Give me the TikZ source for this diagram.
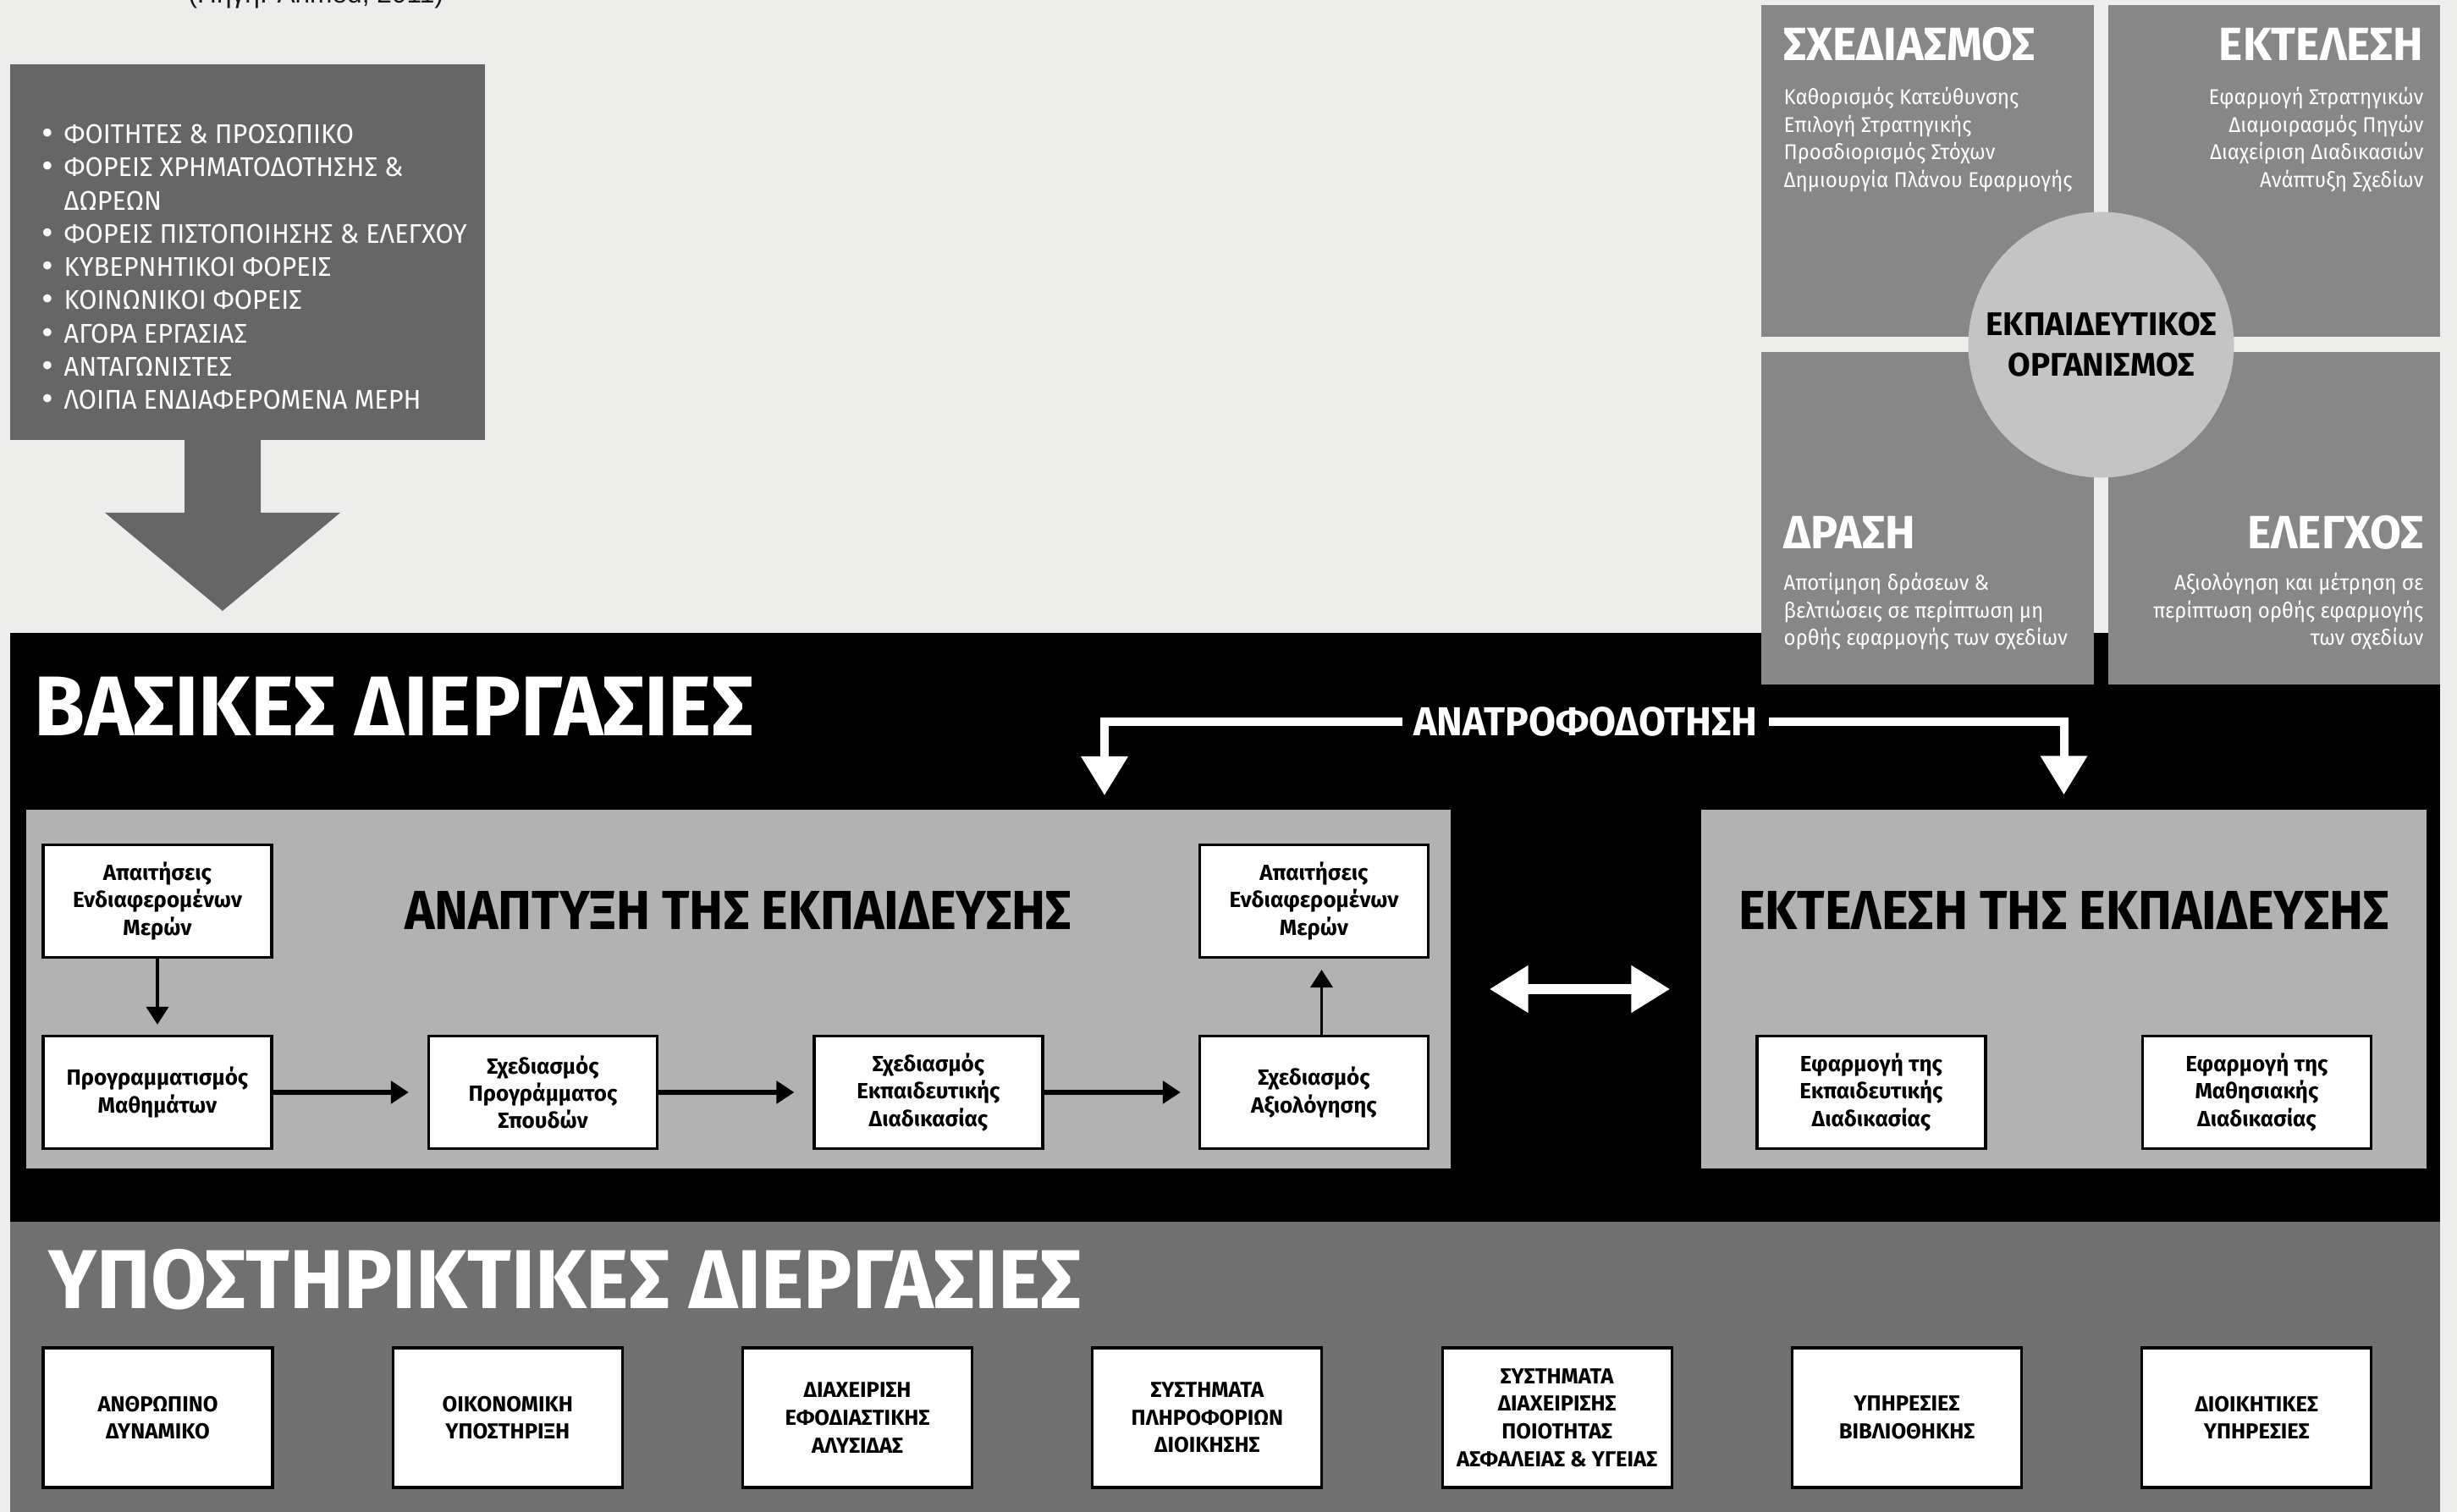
\documentclass[tikz,border=0pt]{standalone}
\usepackage{fontspec}
\setmainfont{Fira Sans}
\newfontfamily\headfont[FakeStretch=0.97]{Fira Sans}
\newfontfamily\titlefont[FakeStretch=0.925]{Fira Sans}
\newfontfamily\bodyfont[FakeStretch=0.95]{Fira Sans}
\newfontfamily\listfont[FakeStretch=0.96]{Fira Sans}
\newfontfamily\srcfont{Liberation Sans}
\usetikzlibrary{arrows.meta}

\definecolor{canvas}{RGB}{237,237,235}
\definecolor{listgray}{RGB}{102,102,102}
\definecolor{quadgray}{RGB}{135,135,135}
\definecolor{orggray}{RGB}{196,196,196}
\definecolor{panelgray}{RGB}{178,178,178}
\definecolor{suppgray}{RGB}{112,112,112}

\tikzset{
  procbox/.style={draw=black, line width=0.9pt, fill=white, minimum width=2.7cm, minimum height=1.33cm,
    align=center, inner sep=0pt, font=\bfseries\fontsize{7.4}{9.2}\selectfont},
  suppbox/.style={procbox, minimum width=2.71cm, minimum height=1.65cm, font=\bfseries\fontsize{7.3}{9.3}\selectfont},
  flowarrow/.style={line width=1.1pt, -{Triangle[length=0.21cm,width=0.26cm]}},
  fbarrow/.style={white, line width=0.1cm, -{Triangle[length=0.46cm,width=0.53cm]}},
  quadhead/.style={text=white, inner sep=0pt, font=\headfont\bfseries\fontsize{15.7}{18}\selectfont},
  quadtext/.style={text=white, inner sep=0pt, font=\bodyfont\fontsize{7.2}{9}\selectfont},
  listtext/.style={text=white, inner sep=0pt, anchor=base west, font=\listfont\fontsize{9.1}{11}\selectfont},
  bigtitle/.style={text=white, inner sep=0pt, anchor=base west, font=\headfont\bfseries\fontsize{28.5}{30}\selectfont},
  paneltitle/.style={inner sep=0pt, font=\titlefont\bfseries\fontsize{18.5}{20}\selectfont}
}

\begin{document}
\begin{tikzpicture}
    \useasboundingbox (0,0) rectangle (29.03,17.87);
    \fill[canvas] (0,0) rectangle (29.03,17.87);
    % source line, cut by the top edge
    \node[anchor=base west, inner sep=0pt, text=black!90, font=\srcfont\fontsize{9}{11}\selectfont] (source) at (2.22,17.83) {(Πηγή: Ahmed, 2011)};
    % stakeholders and block arrow
    \fill[listgray] (0.12,12.67) rectangle (5.73,17.11);
    \fill[listgray] (2.18,12.68) -- (2.18,11.81) -- (1.24,11.81) -- (2.63,10.65) -- (4.02,11.81) -- (3.08,11.81) -- (3.08,12.68) -- cycle;
    \foreach \b/\t [count=\i from 0] in {•/ΦΟΙΤΗΤΕΣ \& ΠΡΟΣΩΠΙΚΟ, •/ΦΟΡΕΙΣ ΧΡΗΜΑΤΟΔΟΤΗΣΗΣ \&, /ΔΩΡΕΩΝ,
        •/ΦΟΡΕΙΣ ΠΙΣΤΟΠΟΙΗΣΗΣ \& ΕΛΕΓΧΟΥ, •/ΚΥΒΕΡΝΗΤΙΚΟΙ ΦΟΡΕΙΣ, •/ΚΟΙΝΩΝΙΚΟΙ ΦΟΡΕΙΣ,
        •/ΑΓΟΡΑ ΕΡΓΑΣΙΑΣ, •/ΑΝΤΑΓΩΝΙΣΤΕΣ, •/ΛΟΙΠΑ ΕΝΔΙΑΦΕΡΟΜΕΝΑ ΜΕΡΗ}
    {
        \node[listtext, font=\fontsize{12}{12}\selectfont] (bul\i) at (0.49,16.155-0.393*\i) {\b};
        \node[listtext] (item\i) at (0.75,16.175-0.393*\i) {\t};
    }
    % core and support areas
    \fill[black] (0.12,3.43) rectangle (28.83,10.39);
    \fill[suppgray] (0.12,0) rectangle (28.83,3.43);
    % organisation quadrants
    \fill[quadgray] (20.81,13.89) rectangle (24.74,17.81);
    \fill[quadgray] (24.91,13.89) rectangle (28.83,17.81);
    \fill[quadgray] (20.81,9.78) rectangle (24.74,13.71);
    \fill[quadgray] (24.91,9.78) rectangle (28.83,13.71);
    \node[circle, fill=orggray, minimum size=3.14cm, inner sep=0pt, align=center,
        font=\bfseries\fontsize{11}{13.66}\selectfont] (org) at (24.825,13.795) {ΕΚΠΑΙΔΕΥΤΙΚΟΣ\\ΟΡΓΑΝΙΣΜΟΣ};
    \node[quadhead, anchor=base west] (plan) at (21.07,17.15) {ΣΧΕΔΙΑΣΜΟΣ};
    \node[quadhead, anchor=base east] (exec) at (28.64,17.15) {ΕΚΤΕΛΕΣΗ};
    \node[quadhead, anchor=base west] (act) at (21.07,11.38) {ΔΡΑΣΗ};
    \node[quadhead, anchor=base east] (check) at (28.64,11.38) {ΕΛΕΓΧΟΣ};
    \foreach \t [count=\i from 0] in {Καθορισμός Κατεύθυνσης, Επιλογή Στρατηγικής, Προσδιορισμός Στόχων, Δημιουργία Πλάνου Εφαρμογής}
        \node[quadtext, anchor=base west] (plan\i) at (21.07,16.63-0.325*\i) {\t};
    \foreach \t [count=\i from 0] in {Εφαρμογή Στρατηγικών, Διαμοιρασμός Πηγών, Διαχείριση Διαδικασιών, Ανάπτυξη Σχεδίων}
        \node[quadtext, anchor=base east] (exec\i) at (28.64,16.63-0.325*\i) {\t};
    \foreach \t [count=\i from 0] in {Αποτίμηση δράσεων \&, βελτιώσεις σε περίπτωση μη, ορθής εφαρμογής των σχεδίων}
        \node[quadtext, anchor=base west] (act\i) at (21.07,10.89-0.325*\i) {\t};
    \foreach \t [count=\i from 0] in {Αξιολόγηση και μέτρηση σε, περίπτωση ορθής εφαρμογής, των σχεδίων}
        \node[quadtext, anchor=base east] (check\i) at (28.64,10.89-0.325*\i) {\t};
    % core processes
    \node[bigtitle] (core) at (0.40,9.17) {ΒΑΣΙΚΕΣ ΔΙΕΡΓΑΣΙΕΣ};
    \node[fill=panelgray, minimum width=16.83cm, minimum height=4.24cm, inner sep=0pt] (devpanel) at (8.725,6.18) {};
    \node[fill=panelgray, minimum width=8.57cm, minimum height=4.24cm, inner sep=0pt] (execpanel) at (24.385,6.18) {};
    \node[paneltitle] (devtitle) at (8.72,7.11) {ΑΝΑΠΤΥΞΗ ΤΗΣ ΕΚΠΑΙΔΕΥΣΗΣ};
    \node[paneltitle] (exectitle) at (24.385,7.11) {ΕΚΤΕΛΕΣΗ ΤΗΣ ΕΚΠΑΙΔΕΥΣΗΣ};
    \node[procbox] (req1) at (1.86,7.22) {Απαιτήσεις\\Ενδιαφερομένων\\Μερών};
    \node[procbox] (prog) at (1.86,4.96) {Προγραμματισμός\\Μαθημάτων};
    \node[procbox] (curr) at (6.415,4.96) {Σχεδιασμός\\Προγράμματος\\Σπουδών};
    \node[procbox] (teach) at (10.97,4.96) {Σχεδιασμός\\Εκπαιδευτικής\\Διαδικασίας};
    \node[procbox] (eval) at (15.525,4.96) {Σχεδιασμός\\Αξιολόγησης};
    \node[procbox] (req2) at (15.525,7.22) {Απαιτήσεις\\Ενδιαφερομένων\\Μερών};
    \node[procbox] (apply1) at (22.11,4.96) {Εφαρμογή της\\Εκπαιδευτικής\\Διαδικασίας};
    \node[procbox] (apply2) at (26.665,4.96) {Εφαρμογή της\\Μαθησιακής\\Διαδικασίας};
    \draw[flowarrow, shorten >=0.12cm] (req1) -- (prog);
    \draw[flowarrow, line width=1.6pt, shorten >=0.22cm] (prog) -- (curr);
    \draw[flowarrow, line width=1.6pt, shorten >=0.22cm] (curr) -- (teach);
    \draw[flowarrow, line width=1.6pt, shorten >=0.21cm] (teach) -- (eval);
    \draw[flowarrow, shorten >=0.13cm] ([xshift=0.09cm]eval.north) -- ([xshift=0.09cm]req2.south);
    \draw[white, line width=0.12cm, {Triangle[length=0.46cm,width=0.53cm]}-{Triangle[length=0.46cm,width=0.53cm]},
        shorten <=0.45cm, shorten >=0.36cm] (devpanel) -- (execpanel);
    % feedback
    \node[text=white, inner xsep=0.13cm, inner ysep=0pt, font=\headfont\bfseries\fontsize{13.6}{15}\selectfont] (feedback) at (18.735,9.34) {ΑΝΑΤΡΟΦΟΔΟΤΗΣΗ};
    \coordinate (fbleft) at (13.05,8.30);
    \draw[fbarrow, shorten >=0.17cm] (feedback.west) -| (fbleft);
    \draw[fbarrow, shorten >=0.17cm] (feedback.east) -| (execpanel.north);
    % support processes
    \node[bigtitle, font=\headfont\bfseries\fontsize{28.1}{30}\selectfont] (support) at (0.57,2.40) {ΥΠΟΣΤΗΡΙΚΤΙΚΕΣ ΔΙΕΡΓΑΣΙΕΣ};
    \foreach \t [count=\i from 0] in {{ΑΝΘΡΩΠΙΝΟ\\ΔΥΝΑΜΙΚΟ}, {ΟΙΚΟΝΟΜΙΚΗ\\ΥΠΟΣΤΗΡΙΞΗ},
        {ΔΙΑΧΕΙΡΙΣΗ\\ΕΦΟΔΙΑΣΤΙΚΗΣ\\ΑΛΥΣΙΔΑΣ}, {ΣΥΣΤΗΜΑΤΑ\\ΠΛΗΡΟΦΟΡΙΩΝ\\ΔΙΟΙΚΗΣΗΣ},
        {ΣΥΣΤΗΜΑΤΑ\\ΔΙΑΧΕΙΡΙΣΗΣ\\ΠΟΙΟΤΗΤΑΣ\\ΑΣΦΑΛΕΙΑΣ \& ΥΓΕΙΑΣ}, {ΥΠΗΡΕΣΙΕΣ\\ΒΙΒΛΙΟΘΗΚΗΣ},
        {ΔΙΟΙΚΗΤΙΚΕΣ\\ΥΠΗΡΕΣΙΕΣ}}
        \node[suppbox] (supp\i) at (1.865+4.133*\i,1.115) {\t};
\end{tikzpicture}
\end{document}
